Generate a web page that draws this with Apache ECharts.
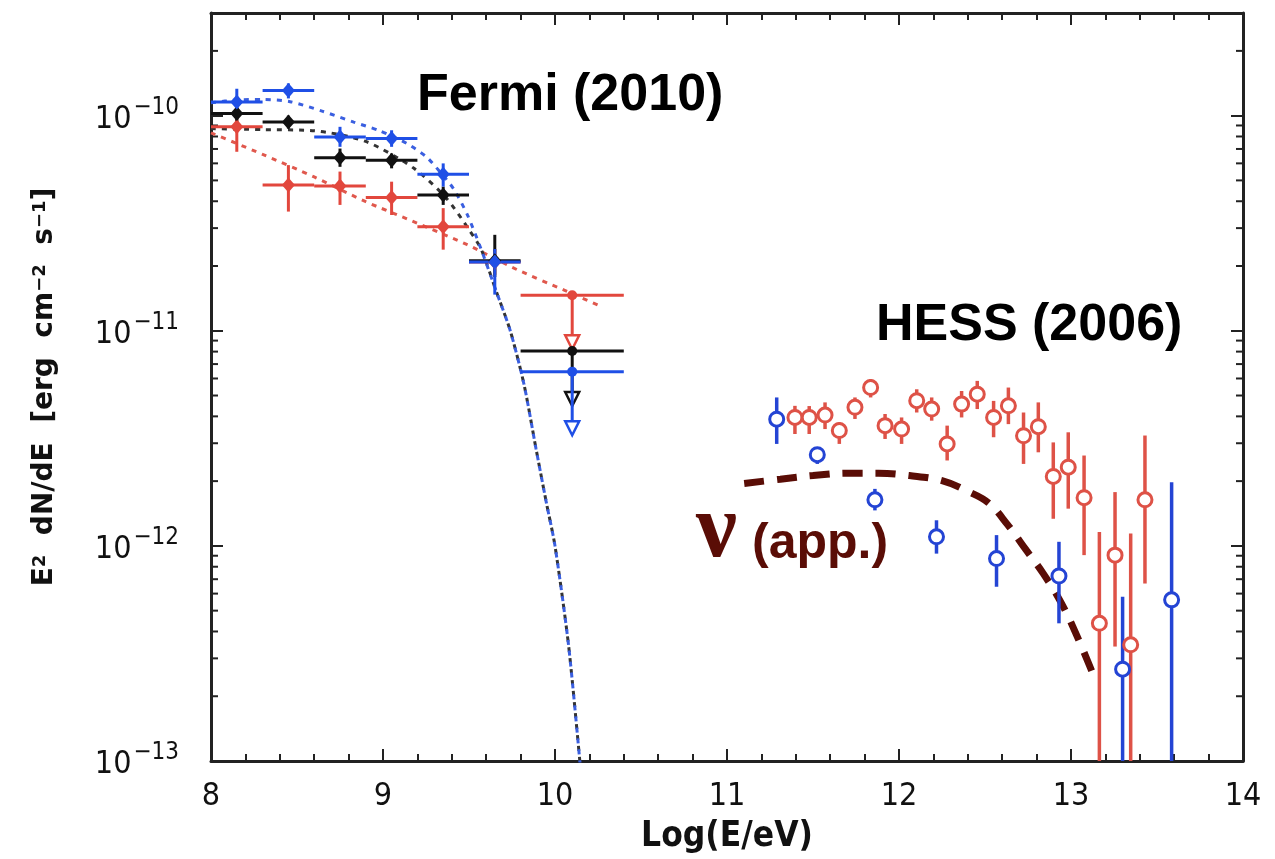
<!DOCTYPE html>
<html>
<head>
<meta charset="utf-8">
<title>Fermi / HESS spectrum</title>
<script src="https://cdn.jsdelivr.net/npm/echarts@6/dist/echarts.min.js"></script>
<style>
  html, body { margin: 0; padding: 0; background: #fff; }
  #chart { width: 1275px; height: 859px; }
</style>
</head>
<body>
<div id="chart"></div>
<script>
// all fluxes are log10(E^2 dN/dE [erg cm^-2 s^-1])
const fermiX = [8.15, 8.45, 8.75, 9.05, 9.35, 9.65];
const fermiXLo = [8.0, 8.3, 8.6, 8.9, 9.2, 9.5];
const fermiXHi = [8.3, 8.6, 8.9, 9.2, 9.5, 9.8];

const fermiBlue = [-9.937, -9.883, -10.099, -10.106, -10.273, -10.68];
const fermiBlueLo = [-9.99, -9.92, -10.145, -10.145, -10.33, -10.832];
const fermiBlueHi = [-9.875, -9.85, -10.052, -10.068, -10.222, -10.62];

const fermiBlack = [-9.99, -10.03, -10.196, -10.207, -10.369, -10.675];
const fermiBlackLo = [-10.03, -10.06, -10.238, -10.245, -10.415, -10.75];
const fermiBlackHi = [-9.95, -10.0, -10.153, -10.176, -10.33, -10.554];

const fermiRed = [-10.052, -10.323, -10.327, -10.381, -10.516, -10.68];
const fermiRedLo = [-10.168, -10.446, -10.415, -10.462, -10.623, -10.74];
const fermiRedHi = [-9.983, -10.23, -10.26, -10.307, -10.43, -10.62];

// upper limits (9.8 - 10.4 bin): [value, arrow tip]
const limitX = 10.1;
const limitXLo = 9.8;
const limitXHi = 10.4;
const limitRed = [-10.835, -11.086];
const limitBlack = [-11.094, -11.35];
const limitBlue = [-11.19, -11.486];

// dotted fits
const fitBlueX = [8.0, 8.15, 8.3, 8.46, 8.65, 8.83, 8.98, 9.14, 9.25, 9.33, 9.41, 9.49, 9.57, 9.66, 9.74, 9.82, 9.89, 9.95, 10.0, 10.08, 10.15];
const fitBlueY = [-9.94, -9.927, -9.925, -9.935, -9.98, -10.03, -10.07, -10.13, -10.19, -10.26, -10.34, -10.46, -10.62, -10.82, -11.0, -11.25, -11.55, -11.8, -12.0, -12.47, -13.05];
const fitBlackX = [8.0, 8.3, 8.6, 8.9, 9.18, 9.37, 9.5, 9.57, 9.66, 9.74, 9.82, 9.89, 9.95, 10.0, 10.08, 10.15];
const fitBlackY = [-10.06, -10.065, -10.07, -10.12, -10.245, -10.385, -10.53, -10.62, -10.82, -11.0, -11.25, -11.55, -11.8, -12.0, -12.47, -13.05];
const fitRedX = [8.0, 8.3, 8.6, 8.9, 9.17, 9.49, 9.78, 10.05, 10.26];
const fitRedY = [-10.08, -10.18, -10.285, -10.4, -10.49, -10.6, -10.716, -10.81, -10.884];

// HESS (2006)
const hessRedX = [11.395, 11.478, 11.57, 11.653, 11.744, 11.835, 11.919, 12.015, 12.103, 12.19, 12.28, 12.364, 12.455, 12.55, 12.636, 12.724, 12.81, 12.897, 12.984, 13.076, 13.165, 13.256, 13.347, 13.43];
const hessRedY = [-11.403, -11.403, -11.392, -11.464, -11.356, -11.264, -11.441, -11.457, -11.325, -11.364, -11.526, -11.341, -11.295, -11.403, -11.349, -11.488, -11.446, -11.677, -11.634, -11.776, -12.36, -12.043, -12.46, -11.786];
const hessRedHi = [-11.349, -11.35, -11.333, -11.426, -11.31, -11.225, -11.387, -11.403, -11.272, -11.31, -11.441, -11.28, -11.233, -11.326, -11.264, -11.38, -11.333, -11.519, -11.472, -11.58, -11.935, -11.75, -11.943, -11.487];
const hessRedLo = [-11.48, -11.48, -11.457, -11.526, -11.41, -11.31, -11.503, -11.526, -11.38, -11.418, -11.603, -11.403, -11.364, -11.495, -11.434, -11.619, -11.565, -11.874, -11.827, -12.043, -14, -12.468, -14, -12.175];

const hessBlueX = [11.289, 11.525, 11.86, 12.218, 12.567, 12.93, 13.30, 13.585];
const hessBlueY = [-11.411, -11.576, -11.786, -11.958, -12.059, -12.14, -12.573, -12.251];
const hessBlueHi = [-11.31, -11.542, -11.735, -11.881, -11.95, -11.981, -12.236, -11.704];
const hessBlueLo = [-11.526, -11.619, -11.835, -12.036, -12.19, -12.36, -14, -14];

// neutrino estimate
const nuX = [11.1, 11.31, 11.5, 11.7, 11.88, 12.06, 12.25, 12.41, 12.52, 12.63, 12.74, 12.84, 12.94, 13.03, 13.13];
const nuY = [-11.71, -11.69, -11.673, -11.662, -11.662, -11.673, -11.697, -11.75, -11.8, -11.9, -12.02, -12.13, -12.26, -12.41, -12.6];

const xTicks = [8, 9, 10, 11, 12, 13, 14];
const yDecades = [-13, -12, -11, -10];
const yMax = Math.log10(3e-10);

const C = {
  blue: "#1f4fe6",
  black: "#111111",
  red: "#e2473d",
  hessRed: "#de5247",
  hessBlue: "#2444d4",
  nu: "#5a0d06",
  axis: "#222222"
};
const narrow = "'Liberation Sans Narrow', 'DejaVu Sans Condensed', 'Liberation Sans', sans-serif";

// minor ticks 2..9 within each decade
const yMinor = [];
yDecades.forEach(d => {
  for (let k = 2; k <= 9; k++) {
    const v = d + Math.log10(k);
    if (v < yMax) yMinor.push([v]);
  }
});

const zip = (...cols) => cols[0].map((_, i) => cols.map(c => c[i]));

function crossItem(color) {
  return function (params, api) {
    const x = api.value(0), y = api.value(1);
    const h1 = api.coord([api.value(2), y]);
    const h2 = api.coord([api.value(3), y]);
    const v1 = api.coord([x, api.value(4)]);
    const v2 = api.coord([x, api.value(5)]);
    const st = { stroke: color, lineWidth: 3 };
    return {
      type: "group",
      children: [
        { type: "line", shape: { x1: h1[0], y1: h1[1], x2: h2[0], y2: h2[1] }, style: st },
        { type: "line", shape: { x1: v1[0], y1: v1[1], x2: v2[0], y2: v2[1] }, style: st }
      ]
    };
  };
}

function limitItem(color) {
  return function (params, api) {
    const x = api.value(0);
    const h1 = api.coord([api.value(2), api.value(1)]);
    const h2 = api.coord([api.value(3), api.value(1)]);
    const top = api.coord([x, api.value(1)]);
    const tip = api.coord([x, api.value(4)]);
    const s = 7;
    return {
      type: "group",
      children: [
        { type: "line", shape: { x1: h1[0], y1: h1[1], x2: h2[0], y2: h2[1] }, style: { stroke: color, lineWidth: 3 } },
        { type: "line", shape: { x1: top[0], y1: top[1], x2: tip[0], y2: tip[1] - 2 * s }, style: { stroke: color, lineWidth: 3 } },
        {
          type: "polygon",
          shape: { points: [[tip[0] - s, tip[1] - 2 * s], [tip[0] + s, tip[1] - 2 * s], [tip[0], tip[1]]] },
          style: { fill: "#fff", stroke: color, lineWidth: 2.5 }
        },
        { type: "circle", shape: { cx: top[0], cy: top[1], r: 5 }, style: { fill: color } }
      ]
    };
  };
}

function vBarItem(color) {
  return function (params, api) {
    const x = api.value(0);
    const p1 = api.coord([x, api.value(1)]);
    const p2 = api.coord([x, api.value(2)]);
    return {
      type: "line",
      shape: { x1: p1[0], y1: p1[1], x2: p2[0], y2: p2[1] },
      style: { stroke: color, lineWidth: 3.5 }
    };
  };
}

function minorTickItem(params, api) {
  const l = api.coord([8, api.value(0)]);
  const r = api.coord([14, api.value(0)]);
  const st = { stroke: C.axis, lineWidth: 2 };
  return {
    type: "group",
    children: [
      { type: "line", shape: { x1: l[0], y1: l[1], x2: l[0] + 7, y2: l[1] }, style: st },
      { type: "line", shape: { x1: r[0], y1: r[1], x2: r[0] - 7, y2: r[1] }, style: st }
    ]
  };
}

function fermiSeries(color, y, lo, hi) {
  return [
    {
      type: "custom",
      renderItem: crossItem(color),
      data: zip(fermiX, y, fermiXLo, fermiXHi, lo, hi),
      clip: true,
      z: 3
    },
    {
      type: "scatter",
      symbol: "diamond",
      symbolSize: [13, 15],
      itemStyle: { color: color, opacity: 1 },
      data: zip(fermiX, y),
      z: 4
    }
  ];
}

function fitSeries(color, xs, ys) {
  return {
    type: "line",
    smooth: 0.25,
    showSymbol: false,
    lineStyle: { color: color, width: 3, type: [5, 6] },
    data: zip(xs, ys),
    clip: true,
    z: 2
  };
}

function hessSeries(color, xs, ys, lo, hi) {
  return [
    {
      type: "custom",
      renderItem: vBarItem(color),
      data: zip(xs, lo, hi),
      clip: true,
      z: 3
    },
    {
      type: "scatter",
      symbol: "circle",
      symbolSize: 14,
      itemStyle: { color: "#fff", borderColor: color, borderWidth: 3, opacity: 1 },
      data: zip(xs, ys),
      z: 4
    }
  ];
}

const axisCommon = {
  type: "value",
  interval: 1,
  axisLine: { onZero: false, lineStyle: { color: C.axis, width: 3 } },
  axisTick: { inside: true, length: 12, lineStyle: { color: C.axis, width: 2 } },
  splitLine: { show: false }
};

const chart = echarts.init(document.getElementById("chart"));
const option = {
  animation: false,
  backgroundColor: "#fff",
  grid: { left: 211, right: 32, top: 13, bottom: 94 },
  xAxis: [
    Object.assign({}, axisCommon, {
      min: xTicks[0], max: xTicks[xTicks.length - 1], position: "bottom",
      minorTick: { show: true, splitNumber: 5, length: 7, lineStyle: { color: C.axis, width: 2 } },
      axisLabel: { fontSize: 32, color: "#111", margin: 20, fontFamily: narrow },
      name: "Log(E/eV)",
      nameLocation: "middle",
      nameGap: 58,
      nameTextStyle: { fontSize: 35, fontWeight: "bold", color: "#111", fontFamily: narrow }
    }),
    Object.assign({}, axisCommon, {
      min: xTicks[0], max: xTicks[xTicks.length - 1], position: "top",
      minorTick: { show: true, splitNumber: 5, length: 7, lineStyle: { color: C.axis, width: 2 } },
      axisLabel: { show: false }
    })
  ],
  yAxis: [
    Object.assign({}, axisCommon, {
      min: yDecades[0], max: yMax, position: "left",
      axisLabel: {
        margin: 32,
        color: "#111",
        formatter: v => Math.abs(v - Math.round(v)) < 1e-6 ? "{b|10}{s|\u2212" + Math.abs(Math.round(v)) + "}" : "",
        rich: {
          b: { fontSize: 32, fontFamily: narrow, color: "#111", padding: [8, 0, 0, 0] },
          s: { fontSize: 24, fontFamily: narrow, color: "#111", verticalAlign: "top", padding: [0, 0, 0, 2] }
        }
      },
      name: "E{s|2}  dN/dE  [erg  cm{s|\u22122}  s{s|\u22121}]",
      nameLocation: "middle",
      nameGap: 152,
      nameRotate: 90,
      nameTextStyle: {
        fontSize: 28, fontWeight: "bold", color: "#111", fontFamily: "'DejaVu Sans', sans-serif",
        rich: { s: { fontSize: 18, fontWeight: "bold", color: "#111", fontFamily: "'DejaVu Sans', sans-serif", verticalAlign: "top" } }
      }
    }),
    Object.assign({}, axisCommon, {
      min: yDecades[0], max: yMax, position: "right",
      axisLabel: { show: false }
    })
  ],
  series: [
    { type: "custom", renderItem: minorTickItem, data: yMinor, z: 1 },
    fitSeries("#e0584d", fitRedX, fitRedY),
    fitSeries("#333333", fitBlackX, fitBlackY),
    fitSeries("#3a5fe0", fitBlueX, fitBlueY),
    ...fermiSeries(C.red, fermiRed, fermiRedLo, fermiRedHi),
    ...fermiSeries(C.black, fermiBlack, fermiBlackLo, fermiBlackHi),
    ...fermiSeries(C.blue, fermiBlue, fermiBlueLo, fermiBlueHi),
    { type: "custom", renderItem: limitItem(C.red), data: [[limitX, limitRed[0], limitXLo, limitXHi, limitRed[1]]], z: 3 },
    { type: "custom", renderItem: limitItem(C.black), data: [[limitX, limitBlack[0], limitXLo, limitXHi, limitBlack[1]]], z: 3 },
    { type: "custom", renderItem: limitItem(C.blue), data: [[limitX, limitBlue[0], limitXLo, limitXHi, limitBlue[1]]], z: 3 },
    {
      type: "line",
      smooth: 0.4,
      showSymbol: false,
      lineStyle: { color: C.nu, width: 7, type: [20, 13], cap: "butt" },
      data: zip(nuX, nuY),
      z: 2
    },
    ...hessSeries(C.hessRed, hessRedX, hessRedY, hessRedLo, hessRedHi),
    ...hessSeries(C.hessBlue, hessBlueX, hessBlueY, hessBlueLo, hessBlueHi)
  ],
  graphic: [
    { type: "text", left: 417, top: 70, style: { text: "Fermi (2010)", fill: "#000", font: "bold 52px 'Liberation Sans', Arial, sans-serif" } },
    { type: "text", left: 876, top: 300, style: { text: "HESS (2006)", fill: "#000", font: "bold 52px 'Liberation Sans', Arial, sans-serif" } },
    { type: "text", left: 696, top: 486, style: { text: "\u03bd", fill: C.nu, font: "bold 92px 'Liberation Serif', 'DejaVu Serif', serif" } },
    { type: "text", left: 752, top: 519, style: { text: "(app.)", fill: C.nu, font: "bold 50px 'Liberation Sans', Arial, sans-serif" } }
  ]
};
chart.setOption(option);
</script>
</body>
</html>
